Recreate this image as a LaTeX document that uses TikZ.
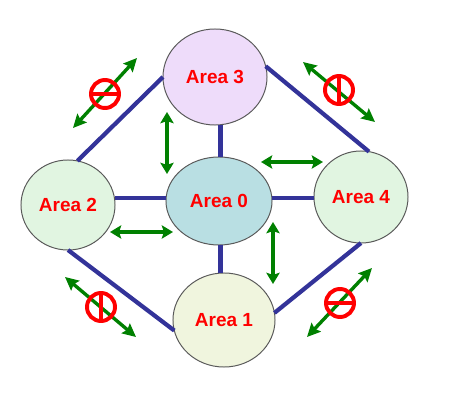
\documentclass[tikz,border=0pt]{standalone}
\usepackage{fontspec}
\setmainfont{Liberation Sans}
\usetikzlibrary{shapes.geometric, arrows.meta, positioning}
\definecolor{linkblue}{RGB}{51,51,153}
\definecolor{arrowgreen}{RGB}{0,128,0}
\definecolor{area0fill}{RGB}{185,223,227}
\definecolor{area1fill}{RGB}{240,245,222}
\definecolor{area2fill}{RGB}{225,245,225}
\definecolor{area3fill}{RGB}{238,220,250}
\tikzstyle{area} = [ellipse, draw = black!65, line width = 0.7pt, inner sep = 0pt, outer sep = 0pt, text = red, font = \bfseries\fontsize{13.5}{15}\selectfont]
\tikzstyle{link} = [linkblue, line width = 3pt]
\tikzstyle{flow} = [arrowgreen, line width = 3pt, {Stealth[length = 8pt, width = 9.5pt, inset = 1.5pt]}-{Stealth[length = 8pt, width = 9.5pt, inset = 1.5pt]}]
\tikzstyle{blocked} = [arrowgreen, line width = 2.4pt, {Stealth[length = 9.5pt, width = 9pt, inset = 1.5pt]}-{Stealth[length = 9.5pt, width = 9pt, inset = 1.5pt]}]
\tikzstyle{nosign} = [circle, draw = red, line width = 2.8pt, minimum size = 0.7cm, inner sep = 0pt, outer sep = 0pt]
\tikzstyle{nobar} = [red, line width = 2.2pt]

\begin{document}
\begin{tikzpicture}[x = 0.025cm, y = -0.025cm]

    \useasboundingbox (0,0) rectangle (454,400);

    \node (area3) [area, fill = area3fill, minimum width = 2.6cm, minimum height = 2.4cm] at (215,77) {Area 3};
    \node (area0) [area, fill = area0fill, minimum width = 2.65cm, minimum height = 2.2cm] at (219,201) {Area 0};
    \node (area2) [area, fill = area2fill, minimum width = 2.35cm, minimum height = 2.25cm] at (68,205) {Area 2};
    \node (area4) [area, fill = area2fill, minimum width = 2.35cm, minimum height = 2.3cm] at (361,197) {Area 4};
    \node (area1) [area, fill = area1fill, minimum width = 2.55cm, minimum height = 2.35cm] at (224,320) {Area 1};

    \draw[link] (area0.88) -- (area0.88 |- area3.south);
    \draw[link] (area0.272) -- (area0.272 |- area1.north);
    \draw[link] (area0.177) -- (area0.177 -| area2.east);
    \draw[link] (area0.3) -- (area0.3 -| area4.west);
    \draw[link] (area3.west) -- (area2.78);
    \draw[link] (area3.12) -- (area4.80);
    \draw[link] (area4.270) -- (area1.8);
    \draw[link] (area2.270) -- (area1.192);

    \coordinate (f1a) at (167,112);
    \coordinate (f1b) at (167,174);
    \coordinate (f2a) at (261,162);
    \coordinate (f2b) at (323,162);
    \coordinate (f3a) at (273,222);
    \coordinate (f3b) at (273,284);
    \coordinate (f4a) at (110,232);
    \coordinate (f4b) at (173,232);
    \draw[flow] (f1a) -- (f1b);
    \draw[flow] (f2a) -- (f2b);
    \draw[flow] (f3a) -- (f3b);
    \draw[flow] (f4a) -- (f4b);

    \coordinate (b1a) at (73,128);
    \coordinate (b1b) at (137,58);
    \coordinate (b2a) at (303,62);
    \coordinate (b2b) at (375,122);
    \coordinate (b3a) at (65,277);
    \coordinate (b3b) at (136,337);
    \coordinate (b4a) at (307,337);
    \coordinate (b4b) at (372,268);
    \draw[blocked] (b1a) -- (b1b);
    \draw[blocked] (b2a) -- (b2b);
    \draw[blocked] (b3a) -- (b3b);
    \draw[blocked] (b4a) -- (b4b);

    \node (no1) [nosign] at (105,94) {};
    \node (no2) [nosign] at (339,90) {};
    \node (no3) [nosign] at (101,307) {};
    \node (no4) [nosign] at (340,303) {};
    \draw[nobar] (no1.west) -- (no1.east);
    \draw[nobar] (no2.north) -- (no2.south);
    \draw[nobar] (no3.north) -- (no3.south);
    \draw[nobar] (no4.west) -- (no4.east);

\end{tikzpicture}
\end{document}
